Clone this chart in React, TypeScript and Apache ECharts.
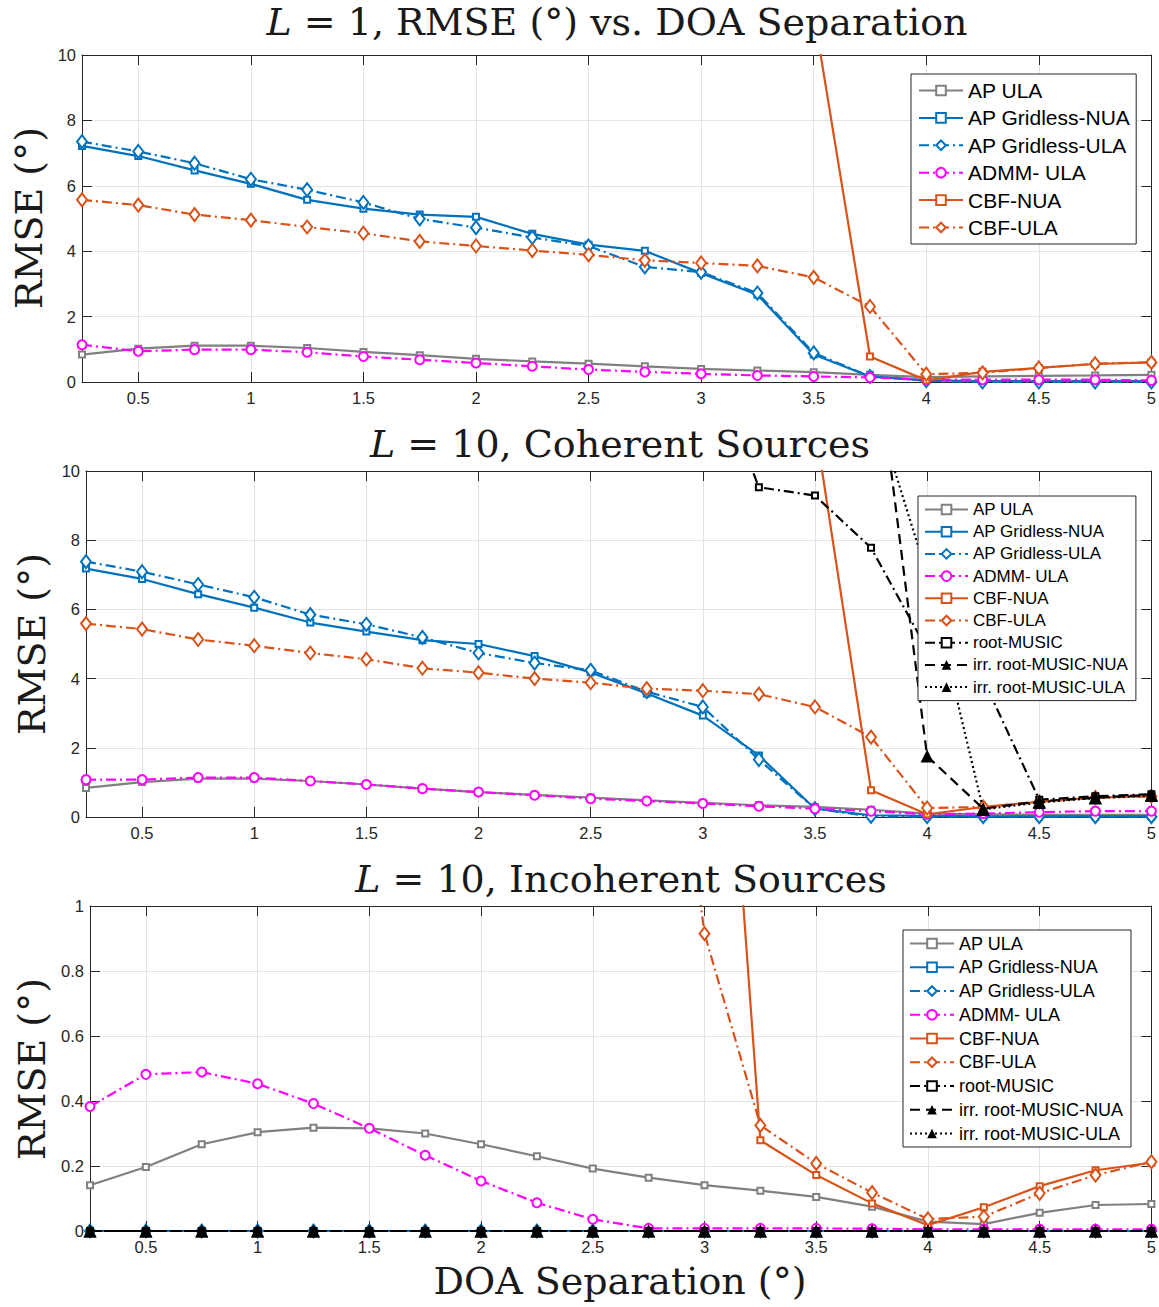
import React, { useEffect, useRef } from 'react';
import * as echarts from 'echarts';

// ---------- data ----------
const xs = [0.25, 0.5, 0.75, 1, 1.25, 1.5, 1.75, 2, 2.25, 2.5, 2.75, 3, 3.25, 3.5, 3.75, 4, 4.25, 4.5, 4.75, 5];
const xTicks = [0.5, 1, 1.5, 2, 2.5, 3, 3.5, 4, 4.5, 5];

// Panel 1: L = 1
const p1_apULA = [0.84, 1.02, 1.11, 1.11, 1.04, 0.92, 0.82, 0.71, 0.63, 0.56, 0.48, 0.40, 0.35, 0.30, 0.22, 0.15, 0.17, 0.19, 0.20, 0.22];
const p1_gNUA = [7.22, 6.91, 6.47, 6.06, 5.57, 5.30, 5.12, 5.05, 4.53, 4.20, 4.01, 3.33, 2.67, 0.84, 0.17, 0.05, 0.03, 0.03, 0.03, 0.03];
const p1_gULA = [7.35, 7.05, 6.69, 6.20, 5.88, 5.49, 4.99, 4.72, 4.42, 4.16, 3.52, 3.36, 2.72, 0.89, 0.17, 0.04, 0.0, 0.0, 0.0, 0.0];
const p1_admm = [1.14, 0.94, 0.99, 0.99, 0.91, 0.78, 0.68, 0.58, 0.48, 0.38, 0.31, 0.25, 0.20, 0.17, 0.14, 0.07, 0.07, 0.07, 0.07, 0.05];
const p1_cbfNUA = [null, null, null, null, null, null, null, null, null, null, null, null, null, 11.3, 0.78, 0.05, 0.31, 0.43, 0.55, 0.60];
const p1_cbfULA = [5.57, 5.41, 5.12, 4.95, 4.74, 4.55, 4.30, 4.16, 4.02, 3.89, 3.72, 3.64, 3.55, 3.20, 2.31, 0.24, 0.28, 0.43, 0.56, 0.60];

// Panel 2: L = 10, coherent
const p2_apULA = [0.84, 1.01, 1.11, 1.11, 1.04, 0.94, 0.82, 0.72, 0.64, 0.56, 0.48, 0.41, 0.34, 0.29, 0.21, 0.10, 0.08, 0.06, 0.06, 0.06];
const p2_gNUA = [7.18, 6.88, 6.44, 6.05, 5.62, 5.36, 5.11, 5.00, 4.65, 4.18, 3.57, 2.93, 1.78, 0.24, 0.05, 0.03, 0.02, 0.02, 0.02, 0.02];
const p2_gULA = [7.38, 7.09, 6.72, 6.35, 5.85, 5.57, 5.19, 4.74, 4.45, 4.24, 3.62, 3.18, 1.66, 0.24, 0.02, 0.01, 0.01, 0.01, 0.01, 0.01];
const p2_admm = [1.08, 1.08, 1.14, 1.14, 1.04, 0.94, 0.82, 0.72, 0.63, 0.53, 0.46, 0.39, 0.31, 0.24, 0.17, 0.08, 0.10, 0.14, 0.17, 0.17];
const p2_cbfNUA = [null, null, null, null, null, null, null, null, null, null, null, null, null, 11.35, 0.77, 0.08, 0.29, 0.44, 0.56, 0.60];
const p2_cbfULA = [5.59, 5.43, 5.13, 4.95, 4.74, 4.56, 4.30, 4.17, 4.00, 3.88, 3.71, 3.65, 3.55, 3.18, 2.31, 0.26, 0.29, 0.44, 0.56, 0.60];
const p2_root = [null, null, null, null, null, null, null, null, null, null, null, 13.7, 9.53, 9.29, 7.78, 4.84, 3.98, 0.50, 0.60, 0.66];
const p2_irrNUA = [null, null, null, null, null, null, null, null, null, null, null, null, null, null, 14.6, 1.76, 0.24, 0.45, 0.56, 0.64];
const p2_irrULA = [null, null, null, null, null, null, null, null, null, null, null, null, null, null, 12.2, 7.0, 0.22, 0.42, 0.55, 0.62];

// Panel 3: L = 10, incoherent
const p3_apULA = [0.141, 0.197, 0.267, 0.304, 0.318, 0.316, 0.300, 0.267, 0.230, 0.192, 0.164, 0.141, 0.124, 0.105, 0.075, 0.029, 0.021, 0.056, 0.080, 0.083];
const p3_gNUA = [0, 0, 0, 0, 0, 0, 0, 0, 0, 0, 0, 0, 0, 0, 0, 0, 0, 0, 0, 0];
const p3_gULA = [0, 0, 0, 0, 0, 0, 0, 0, 0, 0, 0, 0, 0, 0, 0, 0, 0, 0, 0, 0];
const p3_admm = [0.383, 0.482, 0.489, 0.453, 0.392, 0.316, 0.233, 0.154, 0.087, 0.036, 0.008, 0.008, 0.008, 0.008, 0.007, 0.005, 0.005, 0.005, 0.005, 0.005];
const p3_cbfNUA = [null, null, null, null, null, null, null, null, null, null, null, 2.65, 0.279, 0.172, 0.085, 0.018, 0.073, 0.138, 0.187, 0.210];
const p3_cbfULA = [null, null, null, null, null, null, null, null, null, null, 2.25, 0.915, 0.325, 0.208, 0.118, 0.037, 0.044, 0.116, 0.172, 0.213];
const p3_root = [0, 0, 0, 0, 0, 0, 0, 0, 0, 0, 0, 0, 0, 0, 0, 0, 0, 0, 0, 0];
const p3_irrNUA = [0, 0, 0, 0, 0, 0, 0, 0, 0, 0, 0, 0, 0, 0, 0, 0, 0, 0, 0, 0];
const p3_irrULA = [0, 0, 0, 0, 0, 0, 0, 0, 0, 0, 0, 0, 0, 0, 0, 0, 0, 0, 0, 0];

const names1 = ['AP ULA', 'AP Gridless-NUA', 'AP Gridless-ULA', 'ADMM- ULA', 'CBF-NUA', 'CBF-ULA'];
const names2 = [...names1, 'root-MUSIC', 'irr. root-MUSIC-NUA', 'irr. root-MUSIC-ULA'];

// ---------- styles ----------
const GRAY = '#808080';
const BLUE = '#0072BD';
const MAG = '#FF00FF';
const ORANGE = '#D95319';
const BLACK = '#000000';
const DASHDOT = [10, 4, 2, 4];
const DASH = [10, 6];
const DOT = [2, 3];

const sty: Record<string, any> = {
  'AP ULA': { color: GRAY, type: 'solid', symbol: 'emptyRect', size: 6, bw: 2 },
  'AP Gridless-NUA': { color: BLUE, type: 'solid', symbol: 'emptyRect', size: 6, bw: 2 },
  'AP Gridless-ULA': { color: BLUE, type: DASHDOT, symbol: 'emptyDiamond', size: [10, 13], bw: 2 },
  'ADMM- ULA': { color: MAG, type: DASHDOT, symbol: 'emptyCircle', size: 9, bw: 2 },
  'CBF-NUA': { color: ORANGE, type: 'solid', symbol: 'emptyRect', size: 6, bw: 2 },
  'CBF-ULA': { color: ORANGE, type: DASHDOT, symbol: 'emptyDiamond', size: [10, 13], bw: 2 },
  'root-MUSIC': { color: BLACK, type: DASHDOT, symbol: 'emptyRect', size: 6, bw: 2 },
  'irr. root-MUSIC-NUA': { color: BLACK, type: DASH, symbol: 'triangle', size: 13, bw: 0 },
  'irr. root-MUSIC-ULA': { color: BLACK, type: DOT, symbol: 'triangle', size: 13, bw: 0 },
};

const grids = [
  { left: 82, top: 55, width: 1070, height: 327 },
  { left: 86, top: 471, width: 1067, height: 346 },
  { left: 90, top: 906, width: 1062, height: 325 },
];
const yMax = [10, 10, 1];
const yStep = [2, 2, 0.2];

const panelData: [string, (number | null)[]][][] = [
  [
    ['AP ULA', p1_apULA], ['AP Gridless-NUA', p1_gNUA], ['AP Gridless-ULA', p1_gULA],
    ['ADMM- ULA', p1_admm], ['CBF-NUA', p1_cbfNUA], ['CBF-ULA', p1_cbfULA],
  ],
  [
    ['AP ULA', p2_apULA], ['AP Gridless-NUA', p2_gNUA], ['AP Gridless-ULA', p2_gULA],
    ['ADMM- ULA', p2_admm], ['CBF-NUA', p2_cbfNUA], ['CBF-ULA', p2_cbfULA],
    ['root-MUSIC', p2_root], ['irr. root-MUSIC-NUA', p2_irrNUA], ['irr. root-MUSIC-ULA', p2_irrULA],
  ],
  [
    ['AP ULA', p3_apULA], ['AP Gridless-NUA', p3_gNUA], ['AP Gridless-ULA', p3_gULA],
    ['ADMM- ULA', p3_admm], ['CBF-NUA', p3_cbfNUA], ['CBF-ULA', p3_cbfULA],
    ['root-MUSIC', p3_root], ['irr. root-MUSIC-NUA', p3_irrNUA], ['irr. root-MUSIC-ULA', p3_irrULA],
  ],
];

const AX = '#262626';
const GRID = '#e3e3e3';
const SANS = 'Liberation Sans, Arial, sans-serif';
const SERIF = 'DejaVu Serif, serif';

function buildOption() {
  const xAxis: any[] = [];
  const yAxis: any[] = [];
  const series: any[] = [];
  grids.forEach((g, gi) => {
    const common = {
      type: 'value', gridIndex: gi, min: 0.25, max: 5,
      axisLine: { show: true, onZero: false, lineStyle: { color: AX, width: 1 } },
      axisTick: { show: true, inside: true, length: 10, customValues: xTicks, lineStyle: { color: AX } },
    };
    xAxis.push({
      ...common, position: 'bottom',
      axisLabel: { show: true, customValues: xTicks, color: AX, fontSize: 16.5, fontFamily: SANS, margin: 7 },
      splitLine: { show: true, lineStyle: { color: GRID, width: 1 } },
    });
    xAxis.push({
      ...common, position: 'top',
      axisLabel: { show: false },
      splitLine: { show: false },
    });
    const ycommon = {
      type: 'value', gridIndex: gi, min: 0, max: yMax[gi], interval: yStep[gi],
      axisLine: { show: true, onZero: false, lineStyle: { color: AX, width: 1 } },
      axisTick: { show: true, inside: true, length: 10, lineStyle: { color: AX } },
    };
    yAxis.push({
      ...ycommon, position: 'left',
      axisLabel: { show: true, color: AX, fontSize: 16.5, fontFamily: SANS, margin: 6 },
      splitLine: { show: true, lineStyle: { color: GRID, width: 1 } },
    });
    yAxis.push({
      ...ycommon, position: 'right',
      axisLabel: { show: false },
      splitLine: { show: false },
    });
    panelData[gi].forEach(([name, arr], si) => {
      const s = sty[name];
      series.push({
        type: 'line',
        name,
        xAxisIndex: gi * 2,
        yAxisIndex: gi * 2,
        data: xs.map((x, i) => [x, arr[i]]),
        color: s.color,
        symbol: s.symbol,
        symbolSize: s.size,
        showSymbol: true,
        showAllSymbol: true,
        connectNulls: false,
        clip: true,
        lineStyle: { color: s.color, width: 2.2, type: s.type },
        itemStyle: { color: s.color, borderWidth: s.bw },
        z: 2 + si * 0.01,
        emphasis: { disabled: true },
      });
    });
  });

  const legendBase = {
    orient: 'vertical',
    backgroundColor: '#ffffff',
    borderColor: AX,
    borderWidth: 1,
    borderRadius: 0,
    selectedMode: false,
    align: 'left',
    z: 10,
  };
  const legend = [
    {
      ...legendBase, left: 911, top: 74, data: names1,
      itemWidth: 44, itemHeight: 12, itemGap: 6.4, padding: [6, 6, 6, 7],
      textStyle: { fontFamily: SANS, fontSize: 21, lineHeight: 21, color: '#000' },
    },
    {
      ...legendBase, left: 918, top: 496, data: names2,
      itemWidth: 43, itemHeight: 12, itemGap: 5.2, padding: [5, 8, 5, 6],
      textStyle: { fontFamily: SANS, fontSize: 17, lineHeight: 17, color: '#000' },
    },
    {
      ...legendBase, left: 903, top: 930, data: names2,
      itemWidth: 44, itemHeight: 12, itemGap: 5.75, padding: [4.5, 8, 4.5, 6],
      textStyle: { fontFamily: SANS, fontSize: 18, lineHeight: 18, color: '#000' },
    },
  ];

  const tStyle = (text: string) => ({
    text,
    fontFamily: SERIF,
    fontSize: 38,
    fill: '#1a1a1a',
    textAlign: 'center',
    textVerticalAlign: 'middle',
    verticalAlign: 'middle',
    rich: { i: { fontStyle: 'italic', fontFamily: SERIF, fontSize: 38, fill: '#1a1a1a' } },
  });
  const graphic: any[] = [
    { type: 'text', x: 617, y: 22, style: tStyle('{i|L} = 1, RMSE (°) vs. DOA Separation') },
    { type: 'text', x: 620, y: 444, style: tStyle('{i|L} = 10, Coherent Sources') },
    { type: 'text', x: 621, y: 879, style: tStyle('{i|L} = 10, Incoherent Sources') },
    { type: 'text', x: 620, y: 1281, style: tStyle('DOA Separation (°)') },
    { type: 'text', x: 29, y: 218, rotation: Math.PI / 2, style: tStyle('RMSE (°)') },
    { type: 'text', x: 32, y: 644, rotation: Math.PI / 2, style: tStyle('RMSE (°)') },
    { type: 'text', x: 32, y: 1069, rotation: Math.PI / 2, style: tStyle('RMSE (°)') },
  ];

  return {
    animation: false,
    backgroundColor: '#ffffff',
    grid: grids.map((g) => ({ ...g, containLabel: false })),
    xAxis,
    yAxis,
    legend,
    series,
    graphic,
    tooltip: { show: false },
  };
}

export default function App() {
  const ref = useRef<HTMLDivElement>(null);
  useEffect(() => {
    const chart = echarts.init(ref.current!, null, { renderer: 'svg' });
    chart.setOption(buildOption() as any);
    return () => chart.dispose();
  }, []);
  return (
    <div
      ref={ref}
      style={{ position: 'absolute', left: 0, top: 0, width: 1159, height: 1307, background: '#fff' }}
    />
  );
}
